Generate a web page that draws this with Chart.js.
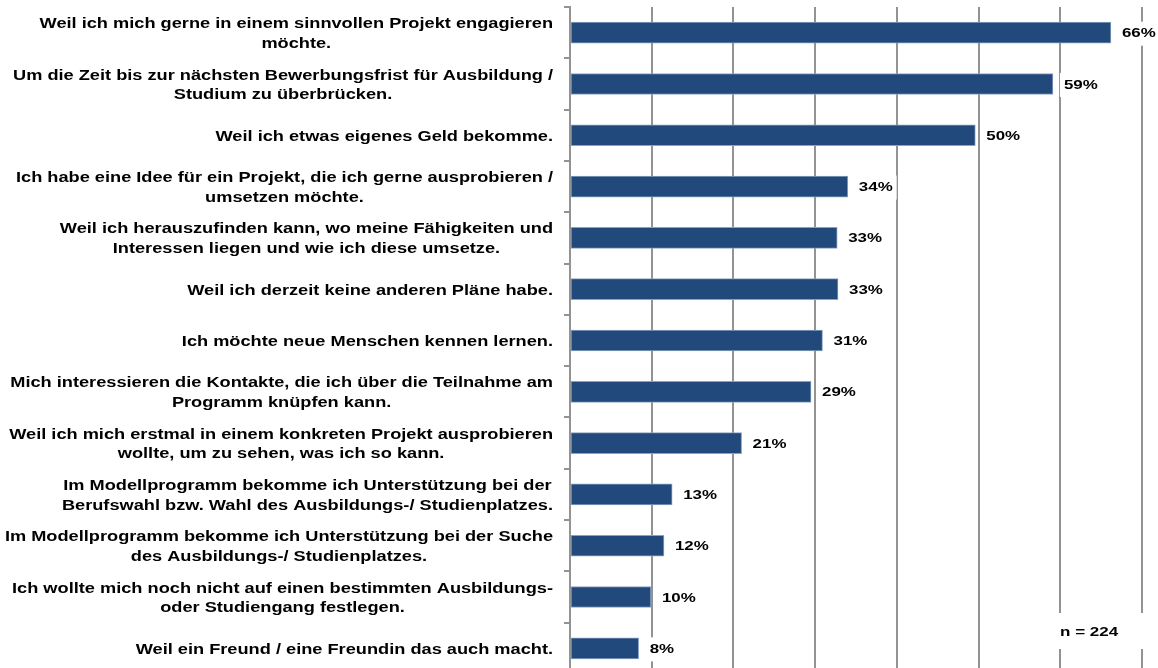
<!DOCTYPE html>
<html>
<head>
<meta charset="utf-8">
<script src="https://cdn.jsdelivr.net/npm/chart.js@4"></script>
<style>
html,body{margin:0;padding:0;background:#fff;overflow:hidden}
#wrap{position:absolute;left:0;top:0;width:1158px;height:674px}
</style>
</head>
<body>
<div id="wrap"><canvas id="c" width="1158" height="674"></canvas></div>
<script>
// ---- data ----
const categories = [
  ["Weil ich mich gerne in einem sinnvollen Projekt engagieren", "möchte."],
  ["Um die Zeit bis zur nächsten Bewerbungsfrist für Ausbildung /", "Studium zu überbrücken."],
  ["Weil ich etwas eigenes Geld bekomme."],
  ["Ich habe eine Idee für ein Projekt, die ich gerne ausprobieren /", "umsetzen möchte."],
  ["Weil ich herauszufinden kann, wo meine Fähigkeiten und", "Interessen liegen und wie ich diese umsetze."],
  ["Weil ich derzeit keine anderen Pläne habe."],
  ["Ich möchte neue Menschen kennen lernen."],
  ["Mich interessieren die Kontakte, die ich über die Teilnahme am", "Programm knüpfen kann."],
  ["Weil ich mich erstmal in einem konkreten Projekt ausprobieren", "wollte, um zu sehen, was ich so kann."],
  ["Im Modellprogramm bekomme ich Unterstützung bei der", "Berufswahl bzw. Wahl des Ausbildungs-/ Studienplatzes."],
  ["Im Modellprogramm bekomme ich Unterstützung bei der Suche", "des Ausbildungs-/ Studienplatzes."],
  ["Ich wollte mich noch nicht auf einen bestimmten Ausbildungs-", "oder Studiengang festlegen."],
  ["Weil ein Freund / eine Freundin das auch macht."]
];
const values = [66.2, 59.1, 49.6, 34.0, 32.7, 32.8, 30.9, 29.5, 21.0, 12.5, 11.5, 9.9, 8.4];
const valueLabels = ["66%", "59%", "50%", "34%", "33%", "33%", "31%", "29%", "21%", "13%", "12%", "10%", "8%"];
const axisTicks = [0, 10, 20, 30, 40, 50, 60, 70];
const sampleNote = "n = 224";

// ---- styles ----
const FONT = '"Liberation Sans", Arial, Helvetica, sans-serif';
const SX = 1.30;
const GRID = '#939393';

function stretchText(ctx, text, x, y, align, sx) {
  const w = ctx.measureText(text).width * sx;
  const left = align === 'center' ? x - w / 2 : (align === 'right' ? x - w : x);
  ctx.save();
  ctx.translate(left, y);
  ctx.scale(sx, 1);
  ctx.textAlign = 'left';
  ctx.fillText(text, 0, 0);
  ctx.restore();
  return w;
}

const labelPlugin = {
  id: 'labelPlugin',
  afterDatasetsDraw(chart) {
    const ctx = chart.ctx;
    const xs = chart.scales.x, ys = chart.scales.y;
    ctx.save();
    ctx.textBaseline = 'middle';
    ctx.fillStyle = '#000';
    // category labels (right aligned block, centered lines)
    ctx.font = 'bold 14px ' + FONT;
    categories.forEach((lines, i) => {
      const yc = ys.getPixelForValue(i);
      const bw = Math.max(...lines.map(l => ctx.measureText(l).width * SX));
      const cx = 553 - bw / 2;
      const n = lines.length;
      lines.forEach((l, j) => {
        const y = yc + (j - (n - 1) / 2) * 19.5 + 1.5;
        stretchText(ctx, l, cx, y, 'center', SX);
      });
    });
    // value labels
    ctx.font = 'bold 13px ' + FONT;
    values.forEach((v, i) => {
      const yc = ys.getPixelForValue(i) + 1;
      const x = xs.getPixelForValue(v) + 11;
      const w = ctx.measureText(valueLabels[i]).width * SX;
      ctx.fillStyle = '#fff';
      ctx.fillRect(x - 4, yc - 12, w + 8, 24);
      ctx.fillStyle = '#000';
      stretchText(ctx, valueLabels[i], x, yc, 'left', SX);
    });
    // sample size note
    ctx.fillStyle = '#fff';
    ctx.fillRect(1055, 613, 94, 36);
    ctx.fillStyle = '#000';
    stretchText(ctx, sampleNote, 1060, 632, 'left', 1.31);
    ctx.restore();
  }
};

new Chart(document.getElementById('c'), {
  type: 'bar',
  data: {
    labels: categories,
    datasets: [{
      data: values,
      backgroundColor: '#21497b',
      borderColor: '#8aa3c2',
      borderWidth: 1,
      borderSkipped: false,
      barThickness: 21
    }]
  },
  options: {
    indexAxis: 'y',
    responsive: false,
    devicePixelRatio: 1,
    animation: false,
    layout: { padding: { left: 0, right: 16, top: 7, bottom: 0 } },
    plugins: { legend: { display: false }, tooltip: { enabled: false } },
    scales: {
      x: {
        min: axisTicks[0],
        max: axisTicks[axisTicks.length - 1],
        afterBuildTicks: s => { s.ticks = axisTicks.map(v => ({ value: v })); },
        ticks: { display: false },
        grid: { color: GRID, lineWidth: 2, drawTicks: false },
        border: { display: false },
        afterFit: s => { s.height = 0; }
      },
      y: {
        offset: true,
        ticks: { display: false },
        grid: { offset: true, drawOnChartArea: false, drawTicks: true, tickLength: 6, color: GRID, lineWidth: 2 },
        border: { display: true, color: GRID, width: 2 },
        afterFit: s => { s.width = 570; }
      }
    }
  },
  plugins: [labelPlugin]
});
</script>
</body>
</html>
